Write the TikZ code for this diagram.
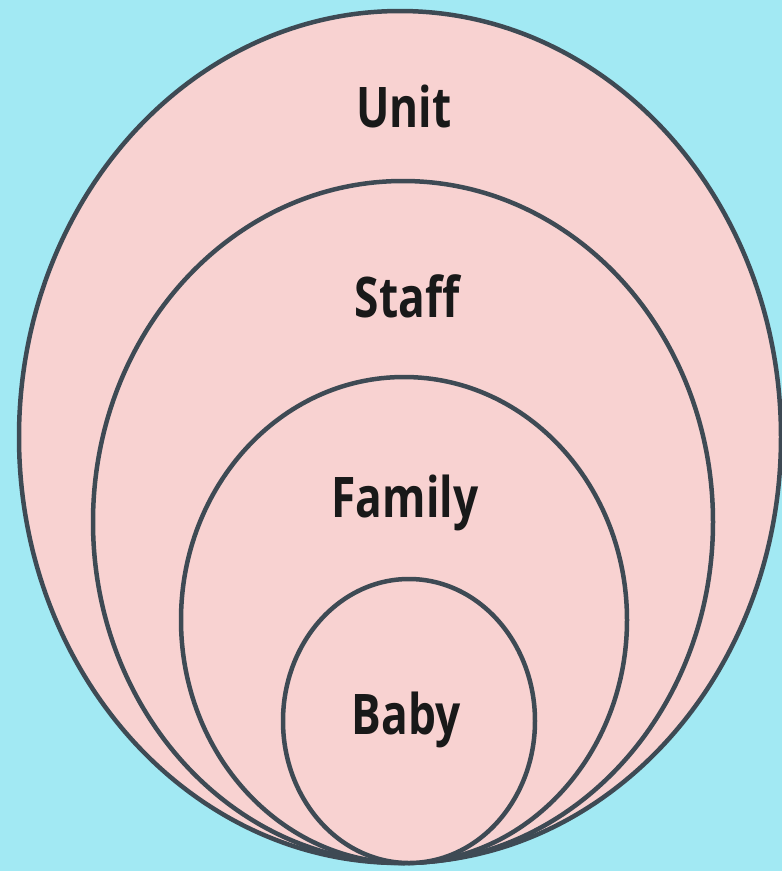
\documentclass[tikz,border=0pt]{standalone}
\usepackage{fontspec}
\setmainfont{Open Sans}
\newfontfamily\lblfont[FakeStretch=0.79]{Open Sans}
\definecolor{bgcyan}{HTML}{A2E9F3}
\definecolor{ringfill}{HTML}{F8D2D1}
\definecolor{ringline}{HTML}{3E4A54}
\begin{document}
\begin{tikzpicture}[x=1pt,y=-1pt,
  ring/.style={fill=ringfill,draw=ringline,line width=4.5pt},
  lbl/.style={font=\lblfont\fontsize{56}{64}\selectfont\bfseries,text=black!90,inner sep=0pt,anchor=base}]
\fill[bgcyan] (0,0) rectangle (782,871);
\useasboundingbox (0,0) rectangle (782,871);
\draw[ring] (400,437) ellipse [x radius=381, y radius=426];
\draw[ring] (403,522) ellipse [x radius=310, y radius=341];
\draw[ring] (404,620) ellipse [x radius=223, y radius=243];
\draw[ring] (409,721) ellipse [x radius=126, y radius=142];
\node[lbl] (unit) at (404,127) {Unit};
\node[lbl] (staff) at (407,317) {Staff};
\node[lbl] (family) at (405,517) {Family};
\node[lbl] (baby) at (406,734) {Baby};
\end{tikzpicture}
\end{document}
